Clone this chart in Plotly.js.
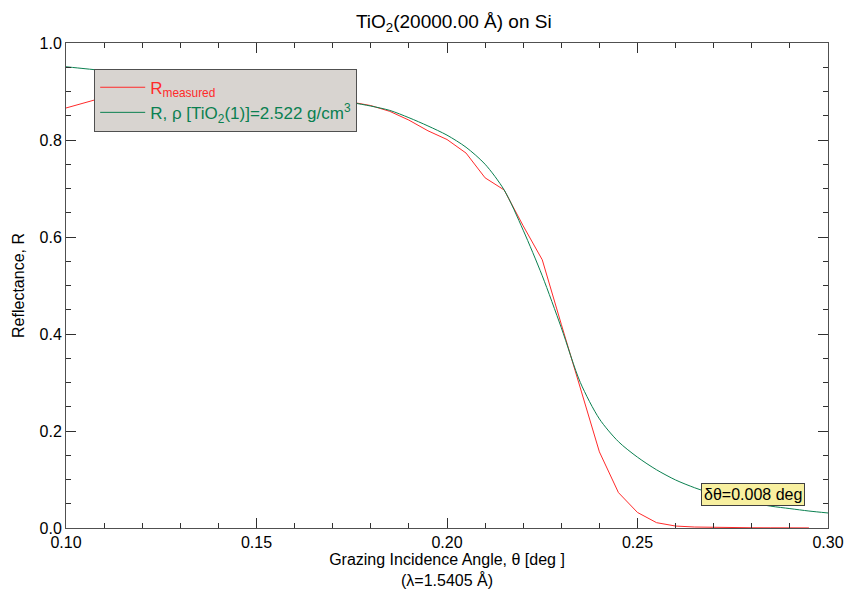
<!DOCTYPE html>
<html>
<head>
<meta charset="utf-8">
<script src="https://cdn.plot.ly/plotly-3.0.1.min.js"></script>
<style>html,body{margin:0;padding:0;background:#fff;}#chart{width:845px;height:597px;}</style>
</head>
<body>
<div id="chart"></div>
<script>
// Measured reflectance
var measAngle = [0.100,0.105,0.110,0.115,0.120,0.125,0.130,0.135,0.140,0.145,0.150,0.155,0.160,0.165,0.170,0.175,0.180,0.185,0.190,0.195,0.200,0.205,0.210,0.215,0.220,0.225,0.230,0.235,0.240,0.245,0.250,0.255,0.260,0.265,0.270,0.275,0.280,0.285,0.290,0.295];
var measR = [0.866,0.877,0.888,0.893,0.895,0.896,0.896,0.895,0.893,0.891,0.889,0.887,0.885,0.883,0.881,0.878,0.871,0.859,0.841,0.819,0.801,0.773,0.722,0.697,0.623,0.553,0.420,0.288,0.157,0.073,0.032,0.011,0.004,0.002,0.001,0.0008,0.0005,0.0004,0.0003,0.0002];
// Model reflectance
var modelAngle = [0.100,0.105,0.110,0.115,0.120,0.125,0.130,0.135,0.140,0.145,0.150,0.155,0.160,0.165,0.170,0.175,0.180,0.185,0.190,0.195,0.200,0.205,0.210,0.215,0.220,0.225,0.230,0.235,0.240,0.245,0.250,0.255,0.260,0.265,0.270,0.275,0.280,0.285,0.290,0.295,0.300];
var modelR = [0.951,0.947,0.943,0.939,0.934,0.929,0.924,0.918,0.912,0.906,0.900,0.895,0.890,0.886,0.882,0.877,0.870,0.861,0.846,0.829,0.810,0.785,0.750,0.697,0.614,0.520,0.413,0.300,0.225,0.178,0.146,0.120,0.099,0.083,0.070,0.060,0.052,0.045,0.040,0.035,0.031];
var xTicks = [0.10,0.15,0.20,0.25,0.30];
var yTicks = [0.0,0.2,0.4,0.6,0.8,1.0];

var FONT = "Liberation Sans, Arial, sans-serif";
var traces = [
  {x: measAngle, y: measR, mode: 'lines', line: {color: '#ff2a2a', width: 1},
   name: "<span style='color:#ff2a2a'>R<sub>measured</sub></span>"},
  {x: modelAngle, y: modelR, mode: 'lines', line: {color: '#0a8050', width: 1, shape: 'spline', smoothing: 0.8},
   name: "<span style='color:#0a8050'>R, ρ [TiO<sub>2</sub>(1)]=2.522 g/cm<sup>3</sup></span>"}
];

var axCommon = {
  showgrid: false, zeroline: false, showline: true, linecolor: '#505050', linewidth: 1,
  mirror: 'ticks', ticks: 'inside', ticklen: 10, tickcolor: '#303030', tickwidth: 1,
  tickfont: {family: FONT, size: 16, color: '#000'}
};
var layout = {
  width: 845, height: 597,
  margin: {l: 66, r: 17, t: 43, b: 69},
  paper_bgcolor: '#fff', plot_bgcolor: '#fff',
  font: {family: FONT, color: '#000'},
  title: {text: 'TiO<sub>2</sub>(20000.00 Å) on Si', font: {family: FONT, size: 19, color: '#000'},
          x: 0.537, xanchor: 'center', y: 0.975, yanchor: 'top'},
  xaxis: Object.assign({}, axCommon, {
    range: [0.10, 0.30], tickvals: xTicks, ticktext: xTicks.map(function(v){return v.toFixed(2);}),
    minor: {dtick: 0.01, ticks: 'inside', ticklen: 5, tickcolor: '#303030', tick0: 0.1},
    title: {text: 'Grazing Incidence Angle, θ [deg ]<br>(λ=1.5405 Å)', font: {family: FONT, size: 16}, standoff: 2}
  }),
  yaxis: Object.assign({}, axCommon, {
    range: [0, 1.0], tickvals: yTicks, ticktext: yTicks.map(function(v){return v.toFixed(1);}),
    minor: {dtick: 0.05, ticks: 'inside', ticklen: 5, tickcolor: '#303030', tick0: 0},
    title: {text: 'Reflectance, R', font: {family: FONT, size: 16}, standoff: 10}
  }),
  showlegend: true,
  legend: {x: 0.037, y: 0.947, xanchor: 'left', yanchor: 'top', bgcolor: '#d8d4d0',
           bordercolor: '#505050', borderwidth: 1, font: {family: FONT, size: 17},
           tracegroupgap: 0, itemwidth: 45},
  annotations: [
    {x: 0.2803, y: 0.069, xref: 'x', yref: 'y', text: 'δθ=0.008 deg', showarrow: false,
     font: {family: FONT, size: 16, color: '#000'}, bgcolor: '#f8f0a0', bordercolor: '#404040',
     borderwidth: 1, borderpad: 2}
  ]
};
Plotly.newPlot('chart', traces, layout, {displayModeBar: false, staticPlot: true});
</script>
</body>
</html>
